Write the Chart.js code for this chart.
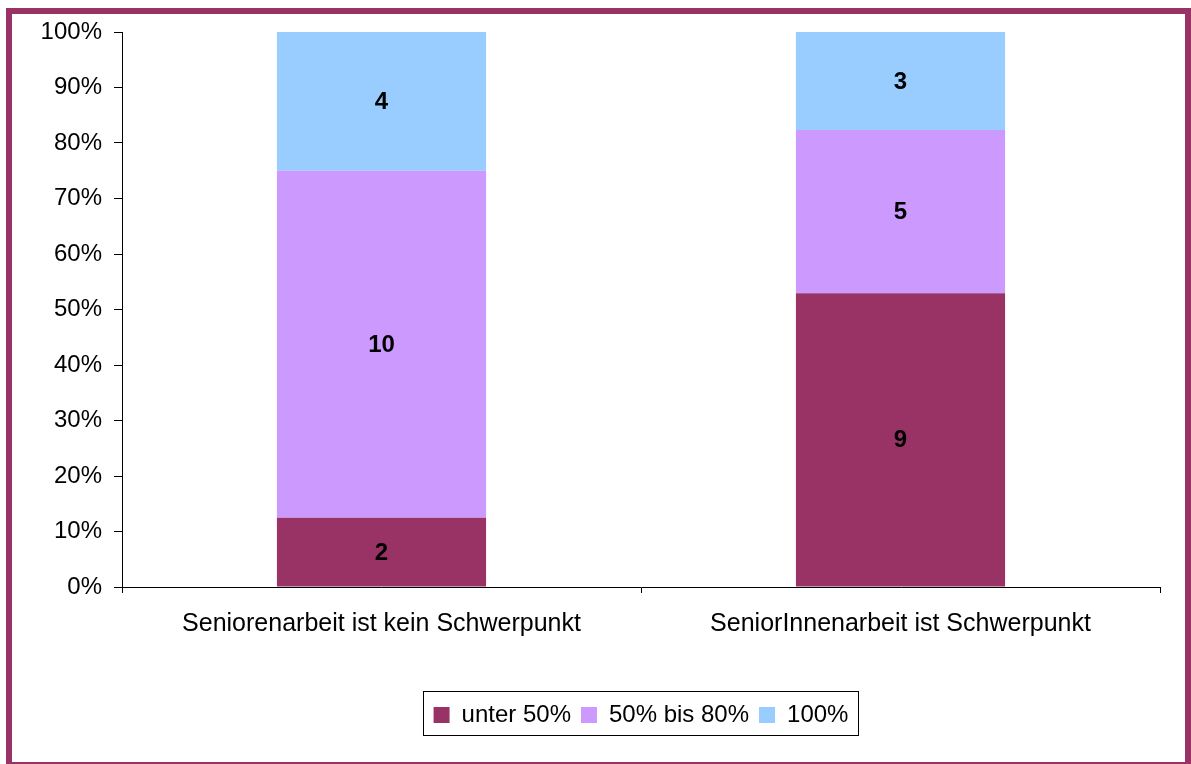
<!DOCTYPE html>
<html>
<head>
<meta charset="utf-8">
<script src="https://cdn.jsdelivr.net/npm/chart.js@4.4.1/dist/chart.umd.min.js"></script>
<style>
  body { margin: 0; background: #fff; overflow: hidden; }
  #frame {
    position: absolute; left: 6px; top: 8px; width: 1185px; height: 760px;
    border: 6px solid #993366; box-sizing: border-box;
  }
  canvas { position: absolute; left: 0; top: 0; }
</style>
</head>
<body>
<div id="frame"></div>
<canvas id="chart" width="1191" height="764"></canvas>
<script>
const categories = [
  "Seniorenarbeit ist kein Schwerpunkt",
  "SeniorInnenarbeit ist Schwerpunkt",
];
const seriesNames = ["unter 50%", "50% bis 80%", "100%"];
const under50 = [2, 9];
const from50to80 = [10, 5];
const full100 = [4, 3];
const colors = ["#993366", "#cc99ff", "#99ccff"];

const totals = categories.map((c, i) => under50[i] + from50to80[i] + full100[i]);
const toPercent = (arr) => arr.map((v, i) => (v / totals[i]) * 100);

const font = "'Liberation Sans', Arial, sans-serif";

// counts printed in the middle of every segment
const segmentLabels = {
  id: "segmentLabels",
  afterDatasetsDraw(chart) {
    const c = chart.ctx;
    c.save();
    c.font = "bold 24px " + font;
    c.fillStyle = "#000";
    c.textAlign = "center";
    c.textBaseline = "middle";
    chart.data.datasets.forEach((ds, di) => {
      chart.getDatasetMeta(di).data.forEach((bar, i) => {
        c.fillText(ds.counts[i], bar.x, (bar.y + bar.base) / 2 + 1);
      });
    });
    c.restore();
  },
};

// centre legend under the plot and put a box around it
const legendBox = {
  id: "legendBox",
  afterLayout(chart) {
    const lg = chart.legend;
    const dx = (chart.chartArea.left + chart.chartArea.right) / 2 - (lg.left + lg.right) / 2;
    lg.left += dx;
    lg.right += dx;
  },
  afterDraw(chart) {
    const lg = chart.legend;
    const pad = lg.options.labels.padding;
    const w = lg.lineWidths[0];
    const x0 = (lg.left + pad + lg.right - w) / 2;
    const c = chart.ctx;
    c.save();
    c.strokeStyle = "#000";
    c.lineWidth = 1;
    c.strokeRect(Math.round(x0 - 11) + 0.5, Math.round(lg.top - 2) + 0.5, Math.round(w + 10), Math.round(lg.bottom - lg.top));
    c.restore();
  },
};

new Chart(document.getElementById("chart"), {
  type: "bar",
  data: {
    labels: categories,
    datasets: [
      { label: seriesNames[0], data: toPercent(under50), counts: under50, backgroundColor: colors[0] },
      { label: seriesNames[1], data: toPercent(from50to80), counts: from50to80, backgroundColor: colors[1] },
      { label: seriesNames[2], data: toPercent(full100), counts: full100, backgroundColor: colors[2] },
    ],
  },
  options: {
    responsive: false,
    animation: false,
    categoryPercentage: 1,
    barPercentage: 0.403,
    layout: { padding: { top: 32, left: 20, right: 31, bottom: 27 } },
    plugins: {
      tooltip: { enabled: false },
      legend: {
        position: "bottom",
        labels: {
          boxWidth: 16,
          boxHeight: 16,
          padding: 10,
          color: "#000",
          font: { family: font, size: 24 },
        },
      },
    },
    scales: {
      x: {
        stacked: true,
        afterFit: (s) => { s.height = 106; },
        grid: { drawOnChartArea: false, drawTicks: true, tickLength: 6, color: "#000", offset: true },
        border: { display: true, color: "#000" },
        ticks: { color: "#000", padding: 16, font: { family: font, size: 25 } },
      },
      y: {
        stacked: true,
        min: 0,
        max: 100,
        afterFit: (s) => { s.width = 102; },
        grid: { drawOnChartArea: false, drawTicks: true, tickLength: 8, color: "#000" },
        border: { display: true, color: "#000" },
        ticks: {
          stepSize: 10,
          color: "#000",
          padding: 12,
          font: { family: font, size: 24 },
          callback: (v) => v + "%",
        },
      },
    },
  },
  plugins: [segmentLabels, legendBox],
});
</script>
</body>
</html>
